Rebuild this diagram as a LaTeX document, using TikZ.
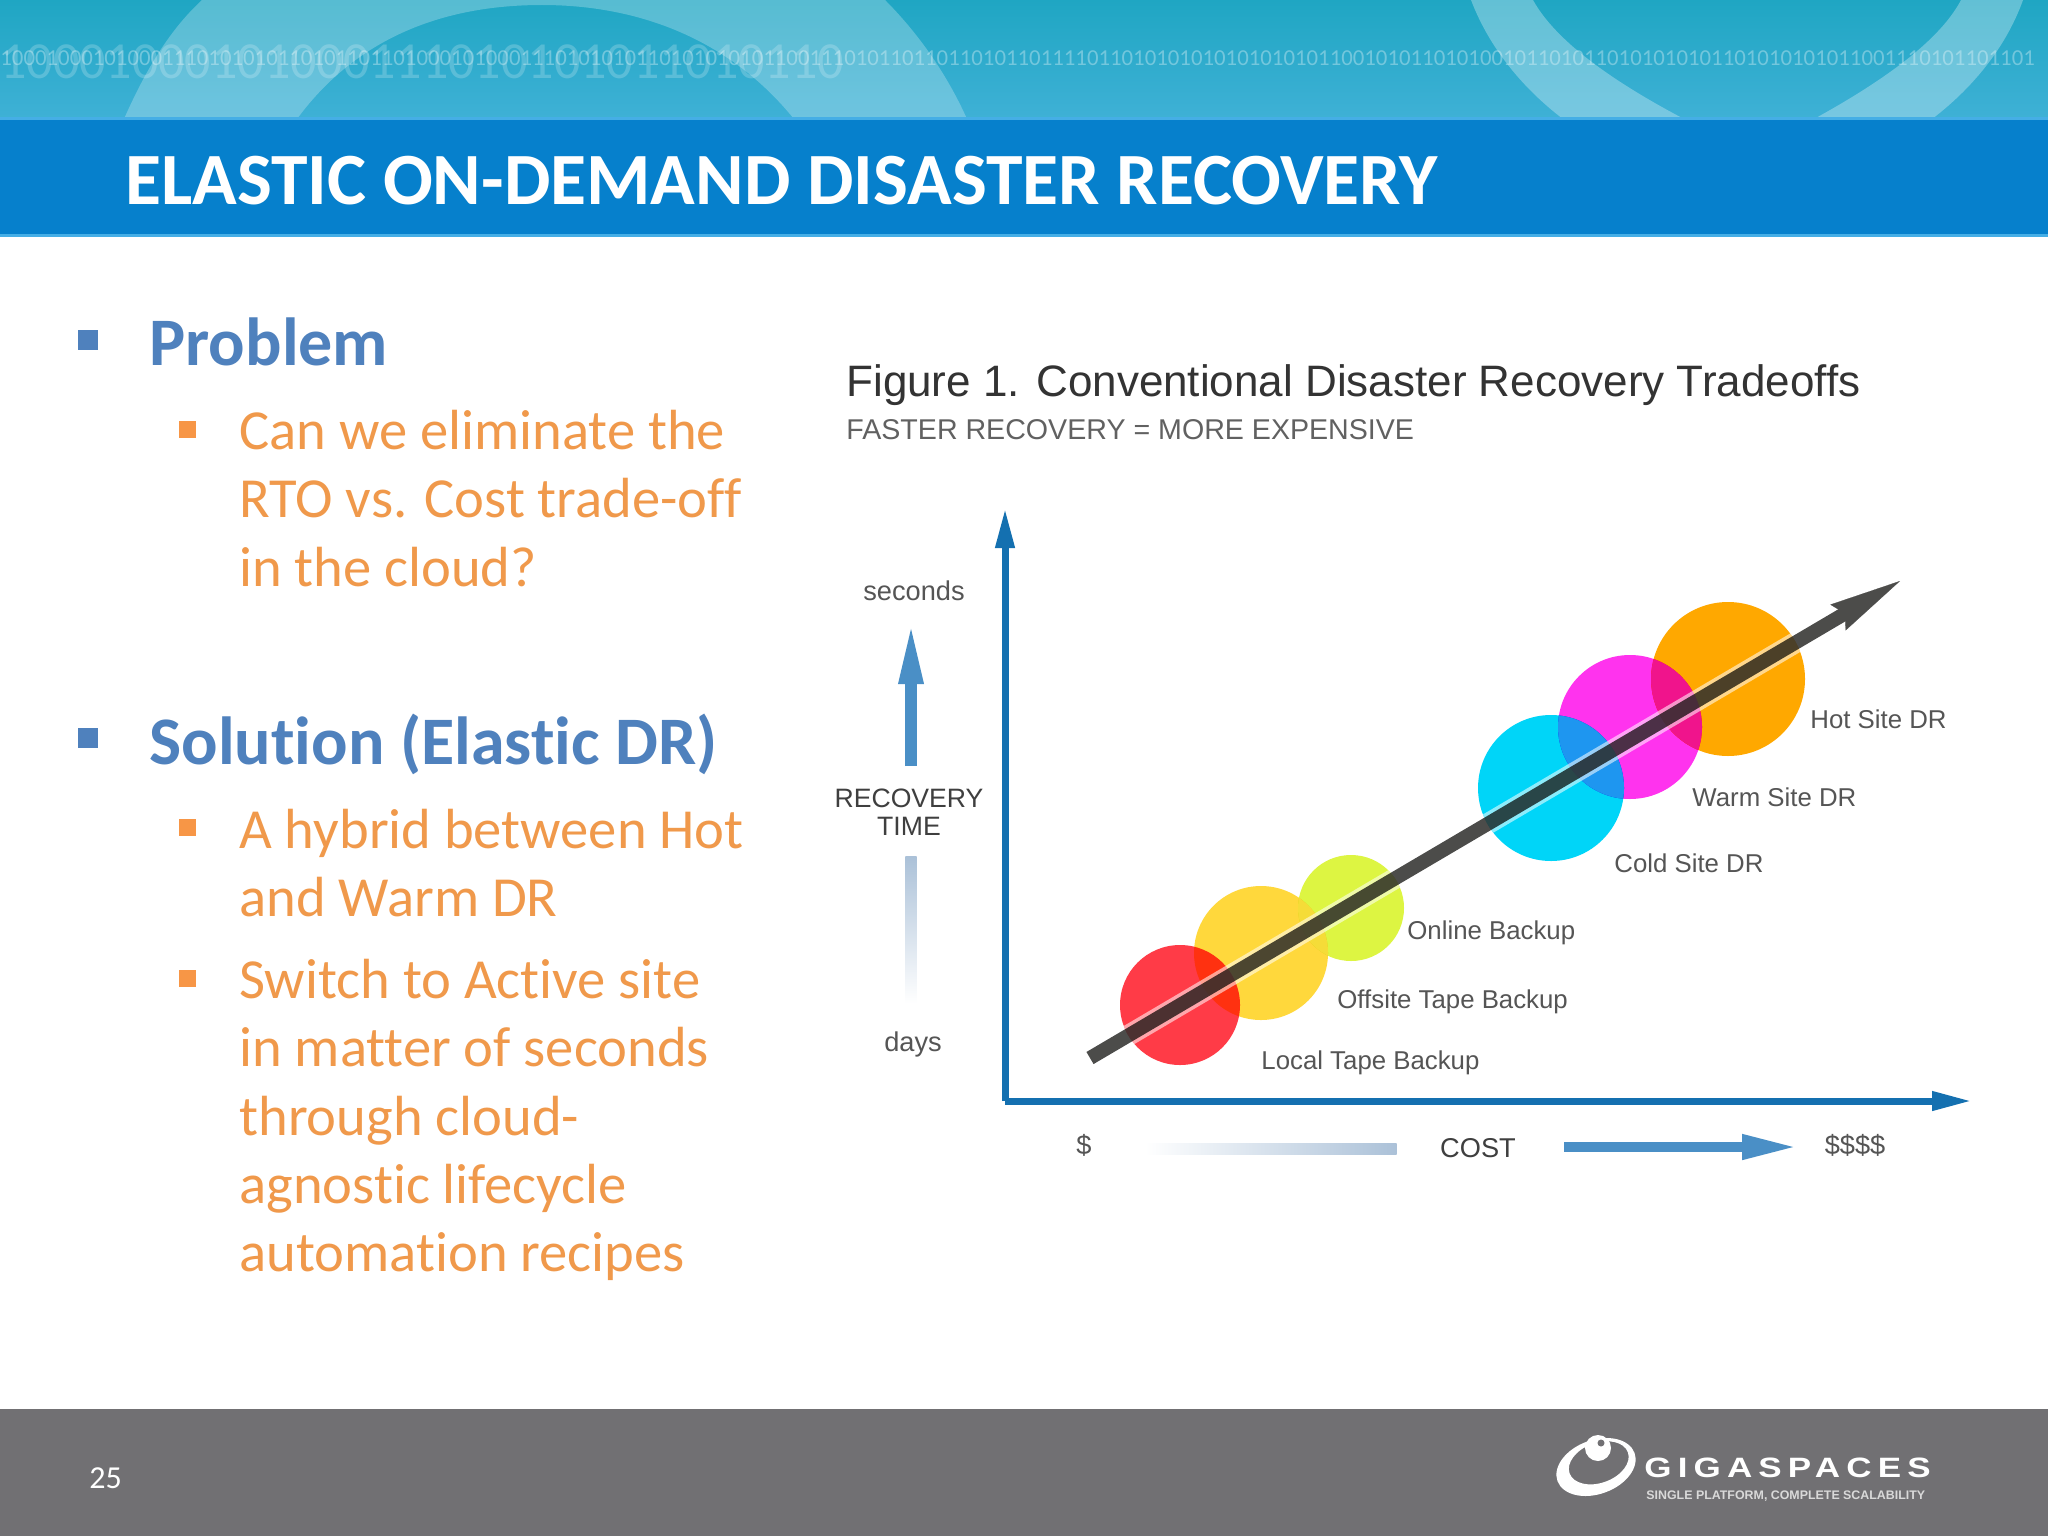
\documentclass[tikz,border=0pt]{standalone}
\usepackage{fontspec}
\setmainfont{Carlito}[Ligatures=NoCommon]
\newfontfamily\figfont{Liberation Sans}
\newfontfamily\logofont[LetterSpace=22,FakeStretch=1.25]{Liberation Sans Bold}
\usetikzlibrary{arrows.meta}
\definecolor{bandtop}{HTML}{1FA6C3}
\definecolor{bandlow}{HTML}{3FB1D6}
\definecolor{titleblue}{HTML}{0680CC}
\definecolor{edgeblue}{HTML}{45AEE6}
\definecolor{footgrey}{HTML}{717073}
\definecolor{headblue}{HTML}{4F81BD}
\definecolor{bodyorange}{HTML}{F0994B}
\definecolor{markorange}{HTML}{F79646}
\definecolor{axisblue}{HTML}{1470B0}
\definecolor{softblue}{HTML}{4A8FC6}
\definecolor{paleblue}{HTML}{ABC1D8}
\definecolor{figgrey}{HTML}{555555}
\definecolor{darkgrey}{HTML}{3F3F3F}
\definecolor{shaftgrey}{HTML}{4C4C4A}
\definecolor{redblob}{HTML}{FF3B47}
\definecolor{yellowblob}{HTML}{FFD83C}
\definecolor{limeblob}{HTML}{DDF542}
\definecolor{cyanblob}{HTML}{00D5F8}
\definecolor{pinkblob}{HTML}{FF33EE}
\definecolor{orangeblob}{HTML}{FFA800}
\definecolor{lensblue}{HTML}{1E96F0}
\definecolor{lensrose}{HTML}{F0148C}
\definecolor{lensyellow}{HTML}{F5DC38}
\newcommand{\sz}[2]{\fontsize{#1}{#2}\selectfont}
\tikzset{
  head/.style={anchor=base west,inner sep=0pt,text=headblue,font=\sz{34}{36}\bfseries},
  body/.style={anchor=north west,inner sep=0pt,text=bodyorange,align=left,font=\sz{28.3}{34.1}},
  headmark/.style={rectangle,fill=headblue,inner sep=0pt,minimum size=10pt},
  bodymark/.style={rectangle,fill=markorange,inner sep=0pt,minimum size=8.5pt},
  lbl/.style={anchor=west,inner sep=0pt,text=figgrey,font=\figfont\sz{12.9}{13}},
  axlbl/.style={inner sep=0pt,text=figgrey,font=\figfont\sz{13.6}{14}},
  blob/.style={circle,inner sep=0pt,blend mode=multiply},
  axis/.style={draw=axisblue,line width=3.5pt,-{Triangle[length=20pt,width=9pt]}},
  fade/.style={rectangle,inner sep=0pt}
}
\begin{document}
\begin{tikzpicture}[x=0.5pt,y=-0.5pt]
\useasboundingbox (0,0) rectangle (2048,1536);
\fill[white] (0,0) rectangle (2048,1536);
% top band
\shade[top color=bandtop,bottom color=bandlow] (0,0) rectangle (2048,120);
\fill[white,opacity=.25,even odd rule] (124,119) .. controls (150,60) and (175,25) .. (202,0)
  -- (885,0) .. controls (915,30) and (945,70) .. (967,119) -- (794,119)
  .. controls (730,40) and (640,5) .. (542,5) .. controls (440,5) and (355,40) .. (297,119) -- cycle;
\fill[white,opacity=.3] (1471,0) .. controls (1490,50) and (1525,90) .. (1563,119) -- (1684,119)
  .. controls (1610,80) and (1555,40) .. (1533,0) -- cycle;
\fill[white,opacity=.3] (2023,0) .. controls (2005,50) and (1970,90) .. (1932,119) -- (1814,119)
  .. controls (1885,80) and (1940,40) .. (1961,0) -- cycle;
\node (smallbits) [anchor=west,inner sep=0pt,text=white,text opacity=.33,font=\sz{11.4}{12}] at (0,58)
  {10001000101000111010101011010110110100010100011101010101101010101011001110101101101101011011110110101010101010101011001010110101001011010110101010101101010101011001110101101101};
\node (largebits) [anchor=west,inner sep=0pt,text=white,text opacity=.2,font=\sz{26}{26}] at (0,62)
  {10001000101000111010101011010110};
% title band
\fill[titleblue] (0,120) rectangle (2048,235);
\fill[edgeblue] (0,117) rectangle (2048,120);
\fill[edgeblue] (0,234) rectangle (2048,237);
\node (title) [anchor=base west,inner sep=0pt,text=white,font=\sz{36.85}{36}\bfseries] at (125,204)
  {ELASTIC ON-DEMAND DISASTER RECOVERY};
% text
\node (problemmark) [headmark] at (88,340) {};
\node (problem) [head] at (149,365) {Problem};
\node (costmark) [bodymark] at (187,429) {};
\node (costtext) [body] at (239,410) {Can we eliminate the\\RTO vs. Cost trade-off\\in the cloud?};
\node (solutionmark) [headmark] at (88,738) {};
\node (solution) [head] at (149,764) {Solution (Elastic DR)};
\node (hybridmark) [bodymark] at (187,827) {};
\node (hybridtext) [body] at (239,809) {A hybrid between Hot\\and Warm DR};
\node (switchmark) [bodymark] at (187,978) {};
\node (switchtext) [body] at (239,959) {Switch to Active site\\in matter of seconds\\through cloud-\\agnostic lifecycle\\automation recipes};
% figure
\node (figtitle) [anchor=west,inner sep=0pt,text=black!80,font=\figfont\sz{22}{22}] at (846,385)
  {Figure 1. Conventional Disaster Recovery Tradeoffs};
\node (figsub) [anchor=west,inner sep=0pt,text=black!62,font=\figfont\sz{14.3}{15}] at (846,430)
  {FASTER RECOVERY = MORE EXPENSIVE};
\coordinate (origin) at (1005,1101);
\coordinate (ytip) at (1005,508);
\coordinate (xtip) at (1972,1101);
\draw[axis] (origin) -- (ytip);
\draw[axis] (origin) -- (xtip);
\node (seconds) [axlbl] at (914,591) {seconds};
\node (recovery) [axlbl,text=darkgrey,align=center,font=\figfont\sz{13.3}{14}] at (909,812) {RECOVERY\\TIME};
\node (days) [axlbl] at (913,1044) {days};
\node (dollar) [axlbl] at (1084,1145) {\$};
\node (cost) [axlbl,text=darkgrey] at (1478,1148) {COST};
\node (dollars) [axlbl] at (1855,1145) {\$\$\$\$};
\coordinate (uptip) at (911,620);
\coordinate (upbase) at (911,766);
\draw[softblue,line width=5.7pt,-{Triangle[length=32pt,width=11pt]}] (upbase) -- (uptip);
\node (upfade) [fade,minimum width=5.7pt,minimum height=73.5pt,top color=paleblue,bottom color=white] at (911,930) {};
\node (costfade) [fade,minimum width=125.5pt,minimum height=5.5pt,left color=white,right color=paleblue] at (1271,1149) {};
\coordinate (costbase) at (1564,1147);
\coordinate (costtip) at (1798,1147);
\draw[softblue,line width=5pt,-{Triangle[length=28pt,width=11.5pt]}] (costbase) -- (costtip);
% circles
\node (redsite) [blob,fill=redblob,minimum size=60pt] at (1180,1005) {};
\node (yellowsite) [blob,fill=yellowblob,minimum size=67pt] at (1261,953) {};
\node (limesite) [blob,fill=limeblob,minimum size=53pt] at (1351,908) {};
\node (cyansite) [blob,fill=cyanblob,minimum size=73pt] at (1551,788) {};
\node (pinksite) [blob,fill=pinkblob,minimum size=72pt] at (1630,727) {};
\node (orangesite) [blob,fill=orangeblob,minimum size=77pt] at (1728,679) {};
\foreach \one/\rone/\two/\rtwo/\lens in {limesite/53/yellowsite/67/lensyellow,cyansite/73/pinksite/72/lensblue,pinksite/72/orangesite/77/lensrose}{
  \begin{scope}
  \clip (\one) circle (\rone);
  \fill[\lens] (\two) circle (\rtwo);
  \end{scope}
}
\coordinate (lowend) at (1090,1058);
\coordinate (shaftend) at (1850,610.5);
\coordinate (headbase) at (1838,617.5);
\coordinate (highend) at (1900,581);
\begin{scope}
\clip (redsite) circle (60) (yellowsite) circle (67) (limesite) circle (53)
  (cyansite) circle (73) (pinksite) circle (72) (orangesite) circle (77);
\draw[white,opacity=.55,line width=10.5pt] (lowend) -- (highend);
\end{scope}
\draw[shaftgrey,line width=7pt,blend mode=multiply] (lowend) -- (shaftend);
\draw[shaftgrey,line width=.1pt,-{Stealth[length=36pt,width=15pt,inset=4pt]}] (headbase) -- (highend);
\node (localtape) [lbl] at (1261,1063) {Local Tape Backup};
\node (offsite) [lbl] at (1337,1002) {Offsite Tape Backup};
\node (online) [lbl] at (1407,933) {Online Backup};
\node (cold) [lbl] at (1614,863) {Cold Site DR};
\node (warm) [lbl] at (1692,797) {Warm Site DR};
\node (hot) [lbl] at (1810,719) {Hot Site DR};
% footer
\fill[footgrey] (0,1409) rectangle (2048,1536);
\node (pagenum) [anchor=west,inner sep=0pt,text=white,font=\sz{16}{16}] at (89,1478) {25};
\fill[white,even odd rule,rotate around={20:(1596,1467)}] (1596,1467) ellipse (41 and 27)
  (1600,1464) ellipse (31 and 20);
\fill[white] (1598,1448) circle (13);
\fill[footgrey] (1601,1443) circle (3.5);
\node (logoname) [anchor=west,inner sep=0pt,text=white,font=\logofont\sz{14}{14}] at (1644,1468) {GIGASPACES};
\node (logotag) [anchor=west,inner sep=0pt,text=white!85!black,font=\figfont\bfseries\sz{6.2}{8}] at (1646,1496) {SINGLE PLATFORM, COMPLETE SCALABILITY};
\end{tikzpicture}
\end{document}
